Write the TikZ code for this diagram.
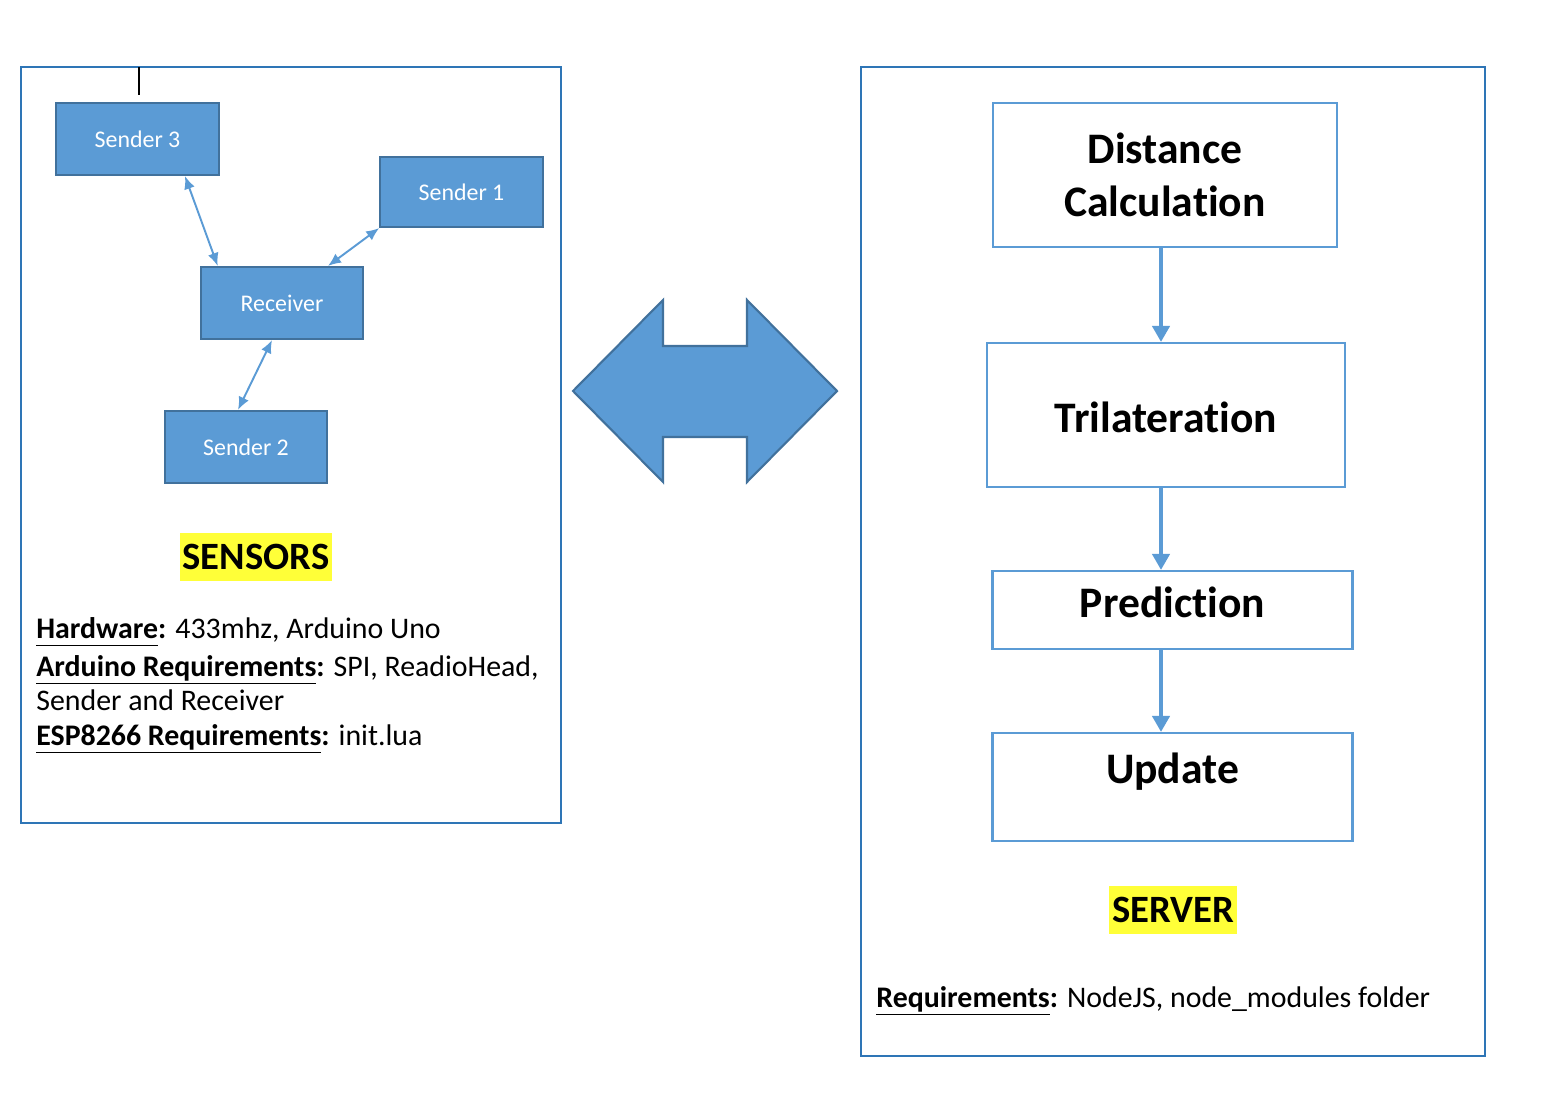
\documentclass[tikz,border=0pt]{standalone}
\usepackage{fontspec}
\setmainfont{Carlito}[Ligatures=NoCommon]
\usetikzlibrary{arrows.meta,positioning}
\definecolor{boxblue}{HTML}{5B9BD5}
\definecolor{boxedge}{HTML}{41719C}
\definecolor{framblue}{HTML}{2E75B6}
\definecolor{hilite}{HTML}{FFFF38}
\newcommand{\keyw}[1]{\underline{\textbf{#1}\vphantom{g}}}
\tikzset{
  sensorbox/.style={draw=boxedge, fill=boxblue, line width=1.2pt, text=white, minimum width=3.25cm, minimum height=1.44cm, font=\fontsize{13.6}{16}\selectfont},
  stagebox/.style={draw=boxblue, line width=1.2pt, inner sep=0pt, font=\fontsize{24.8}{30.5}\selectfont\bfseries},
  tag/.style={fill=hilite, inner xsep=1.5pt, minimum height=0.96cm, font=\fontsize{22}{26}\selectfont\bfseries},
  reqline/.style={anchor=base west, inner sep=0pt, font=\fontsize{17}{20}\selectfont},
  link/.style={draw=boxblue, line width=1.1pt, {Latex[length=2.6mm,width=2.2mm]}-{Latex[length=2.6mm,width=2.2mm]}},
  flow/.style={draw=boxblue, line width=2.3pt, -{Triangle[length=3.2mm,width=3.4mm]}},
  frame/.style={draw=framblue, line width=1.1pt}
}
\begin{document}
\begin{tikzpicture}[x=0.02cm, y=-0.02cm]
        \useasboundingbox (0,0) rectangle (1554,1112);
        \draw[frame] (21,67) rectangle (561,823);
        \draw[frame] (861,67) rectangle (1485,1056);
        \draw[line width=0.9pt] (139,67) -- (139,95);

        \node[sensorbox] (s3) at (137.5,139) {Sender 3};
        \node[sensorbox, minimum height=1.4cm] (s1) at (461.5,192) {Sender 1};
        \node[sensorbox] (rx) at (282,303) {Receiver};
        \node[sensorbox] (s2) at (246,447) {Sender 2};
        \draw[link] ([xshift=0.95cm]s3.south) -- ([xshift=0.36cm]rx.north west);
        \draw[link] (s1.south west) -- ([xshift=0.92cm]rx.north);
        \draw[link] ([xshift=-0.2cm]rx.south) -- ([xshift=-0.16cm]s2.north);

        \node[tag] (sensors) at (256,557) {SENSORS};
        \node[reqline] (hw) at (36,638) {\keyw{Hardware}\textbf{:} 433mhz, Arduino Uno};
        \node[reqline] (ardreq) at (36,676) {\keyw{Arduino Requirements}\textbf{:} SPI, ReadioHead,};
        \node[reqline] (ardreq2) at (36,710) {Sender and Receiver};
        \node[reqline] (espreq) at (36,745) {\keyw{ESP8266 Requirements}\textbf{:} init.lua};

        \draw[draw=boxedge, fill=boxblue, line width=1.2pt] (573,391) -- (663,300) -- (663,346) -- (747,346) -- (747,300) -- (837,391) -- (747,482) -- (747,437) -- (663,437) -- (663,482) -- cycle;

        \node[stagebox, minimum width=6.88cm, minimum height=2.88cm, align=center] (dist) at (1165,175) {Distance\\Calculation};
        \node[stagebox, anchor=base, minimum width=7.16cm, text height=1.78cm, text depth=1.1cm] (tri) at (1166,432) {Trilateration};
        \node[stagebox, anchor=base, minimum width=7.2cm, text height=0.92cm, text depth=0.64cm] (pred) at (1172.5,617) {Prediction};
        \node[stagebox, anchor=base, minimum width=7.2cm, text height=1.0cm, text depth=1.16cm] (upd) at (1172.5,783) {Update};
        \coordinate (spine) at (1161,0);
        \draw[flow] (dist.south -| spine) -- (tri.north -| spine);
        \draw[flow] (tri.south -| spine) -- (pred.north -| spine);
        \draw[flow] (pred.south -| spine) -- (upd.north -| spine);

        \node[tag] (server) at (1173,910) {SERVER};
        \node[reqline] (srvreq) at (876,1007) {\keyw{Requirements}\textbf{:} NodeJS, node\_modules folder};
\end{tikzpicture}
\end{document}
